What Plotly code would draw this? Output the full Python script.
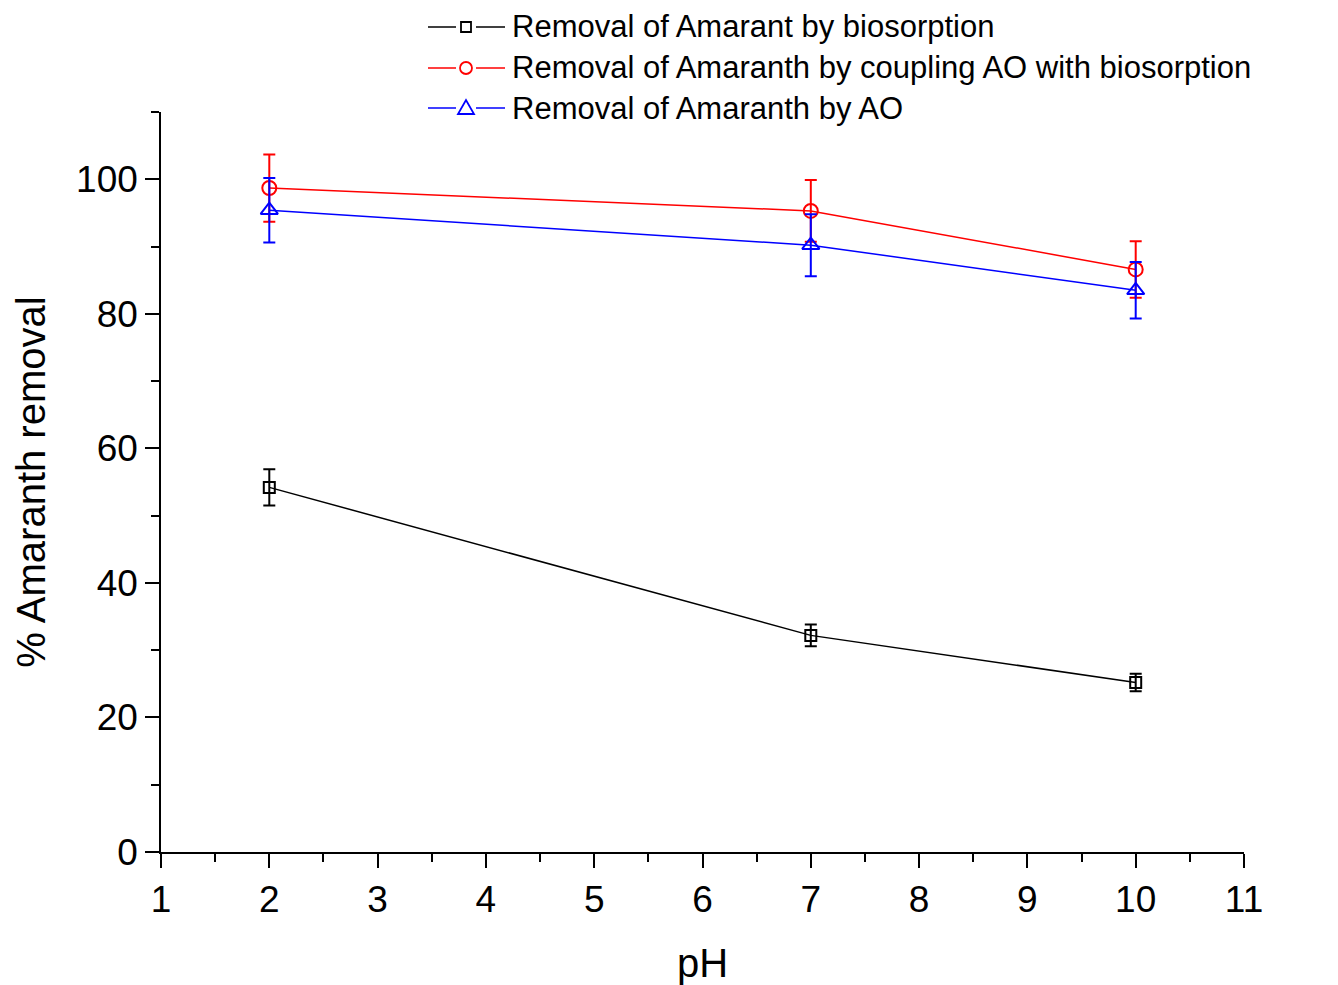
import plotly.graph_objects as go

ph = [2, 7, 10]
bio = [54.2, 32.2, 25.2]
bio_err = [2.7, 1.6, 1.3]
coupled = [98.7, 95.3, 86.6]
coupled_err = [5.0, 4.6, 4.2]
ao = [95.4, 90.2, 83.5]
ao_err = [4.8, 4.6, 4.2]

names = ["Removal of Amarant by biosorption",
         "Removal of Amaranth by coupling AO with biosorption",
         "Removal of Amaranth by AO"]
colors = ["#000000", "#ff0000", "#0000ff"]
symbols = ["square-open", "circle-open", "triangle-up-open"]
sizes = [11, 14, 15]
series = [(bio, bio_err), (coupled, coupled_err), (ao, ao_err)]

FONT = "Arial, 'Liberation Sans', sans-serif"

fig = go.Figure()
for (vals, errs), name, col, sym, sz in zip(series, names, colors, symbols, sizes):
    fig.add_trace(go.Scatter(
        x=ph, y=vals, name=name, mode="lines+markers",
        line=dict(color=col, width=1.5),
        marker=dict(symbol=sym, size=sz, color=col, line=dict(width=2, color=col)),
        error_y=dict(type="data", array=errs, visible=True, color=col,
                     thickness=2, width=6),
        showlegend=False, cliponaxis=False,
    ))

# page offset of the rendered figure (body margin)
OFF = 8
# target plot-area edges on screen
L, R, T, B = 161, 1244, 112, 852
W, H = R - L, B - T
def px(x):
    return (x - L) / W
def py(y):
    return (B - y) / H

rows = [27, 68, 108]
for row, name, col, sym in zip(rows, names, colors, symbols):
    yy = py(row)
    fig.add_shape(type="line", xref="paper", yref="paper",
                  x0=px(428), x1=px(456), y0=yy, y1=yy,
                  line=dict(color=col, width=1.5))
    fig.add_shape(type="line", xref="paper", yref="paper",
                  x0=px(476), x1=px(505), y0=yy, y1=yy,
                  line=dict(color=col, width=1.5))
    if sym.startswith("square"):
        fig.add_shape(type="rect", xref="paper", yref="paper",
                      xsizemode="pixel", ysizemode="pixel",
                      xanchor=px(466), yanchor=yy, x0=-5, x1=5, y0=-5, y1=5,
                      line=dict(color=col, width=1.8))
    elif sym.startswith("circle"):
        fig.add_shape(type="circle", xref="paper", yref="paper",
                      xsizemode="pixel", ysizemode="pixel",
                      xanchor=px(466), yanchor=yy, x0=-6, x1=6, y0=-6, y1=6,
                      line=dict(color=col, width=1.8))
    else:
        fig.add_shape(type="path", xref="paper", yref="paper",
                      xsizemode="pixel", ysizemode="pixel",
                      xanchor=px(466), yanchor=yy,
                      path="M -8,-6 L 8,-6 L 0,8 Z",
                      line=dict(color=col, width=1.8))
    fig.add_annotation(xref="paper", yref="paper", x=px(510), y=yy,
                       text=name, showarrow=False, xanchor="left", yanchor="middle",
                       font=dict(family=FONT, size=31, color="#000000"))

fig.update_layout(
    width=1338, height=985,
    margin=dict(l=L - OFF, r=1338 - R + OFF, t=T - OFF, b=985 - B + OFF),
    paper_bgcolor="white", plot_bgcolor="white",
    font=dict(family=FONT, color="#000000"),
    showlegend=False,
)
fig.update_xaxes(
    range=[1, 11], tickmode="linear", tick0=1, dtick=1,
    ticks="outside", ticklen=14, tickwidth=1.5, tickcolor="black",
    minor=dict(ticks="outside", ticklen=8, tickwidth=1.5, tickcolor="black", dtick=0.5),
    showline=True, linecolor="black", linewidth=1.5, showgrid=False, zeroline=False,
    tickfont=dict(size=37, family=FONT),
    title=dict(text="pH", font=dict(size=40, family=FONT), standoff=30),
)
fig.update_yaxes(
    range=[0, 110], tickmode="array", tickvals=[0, 20, 40, 60, 80, 100],
    ticks="outside", ticklen=14, tickwidth=1.5, tickcolor="black",
    minor=dict(ticks="outside", ticklen=8, tickwidth=1.5, tickcolor="black",
               tickvals=[10, 30, 50, 70, 90, 110]),
    showline=True, linecolor="black", linewidth=1.5, showgrid=False, zeroline=False,
    tickfont=dict(size=37, family=FONT),
    title=dict(text="% Amaranth removal", font=dict(size=40, family=FONT), standoff=18),
)

fig.write_html("out.html")
